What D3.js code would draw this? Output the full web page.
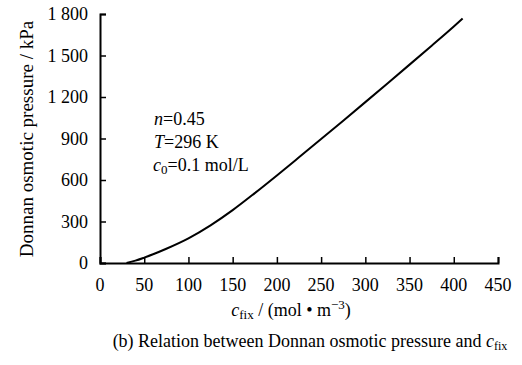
<!DOCTYPE html>
<html>
<head>
<meta charset="utf-8">
<script src="https://cdn.jsdelivr.net/npm/d3@7"></script>
<style>
  body { margin: 0; background: #fff; }
  svg { display: block; font-family: "Liberation Serif", "Times New Roman", serif; }
</style>
</head>
<body>
<svg id="chart" width="522" height="365"></svg>
<script>
// values
const cfix = [30, 40, 50, 60, 75, 100, 125, 150, 175, 200, 225, 250, 275, 300, 325, 350, 375, 400, 410];
const pressure = [0, 17, 39, 63, 103, 178, 272, 382, 505, 633, 764, 896, 1029, 1163, 1298, 1434, 1571, 1710, 1768];
const xTicks = [0, 50, 100, 150, 200, 250, 300, 350, 400, 450];
const yTicks = [0, 300, 600, 900, 1200, 1500, 1800];
const notes = ["n", "T", "c"];

const svg = d3.select("#chart");
const plotL = 100, plotR = 498, plotT = 14, plotB = 263;

const x = d3.scaleLinear().domain([0, 450]).range([plotL, plotR]);
const y = d3.scaleLinear().domain([0, 1800]).range([plotB, plotT]);

// format 1800 -> "1 800"
const fmt = v => v >= 1000 ? String(v).replace(/(\d)(\d{3})$/, "$1 $2") : String(v);

// x axis, ticks point inward
const gx = svg.append("g")
  .attr("transform", `translate(0,${plotB})`)
  .call(d3.axisTop(x).tickValues(xTicks).tickSize(6).tickFormat(""));
gx.select(".domain").attr("stroke-width", 2);
gx.selectAll(".tick line").attr("stroke-width", 1.5);

svg.append("g").selectAll("text")
  .data(xTicks)
  .enter()
  .append("text")
  .attr("x", d => x(d))
  .attr("y", 291)
  .attr("text-anchor", "middle")
  .attr("font-size", 18)
  .text(d => d);

// y axis, ticks point inward
const gy = svg.append("g")
  .attr("transform", `translate(${plotL},0)`)
  .call(d3.axisRight(y).tickValues(yTicks).tickSize(6).tickFormat(""));
gy.select(".domain").attr("stroke-width", 2);
gy.selectAll(".tick line").attr("stroke-width", 1.5);

svg.append("g").selectAll("text")
  .data(yTicks)
  .enter()
  .append("text")
  .attr("x", 88)
  .attr("y", d => y(d))
  .attr("dy", "0.35em")
  .attr("text-anchor", "end")
  .attr("font-size", 18)
  .text(d => fmt(d));

// curve
const line = d3.line()
  .x((d, i) => x(cfix[i]))
  .y(d => y(d))
  .curve(d3.curveMonotoneX);

svg.append("path")
  .datum(pressure)
  .attr("d", line)
  .attr("fill", "none")
  .attr("stroke", "#000")
  .attr("stroke-width", 2);

// axis titles
svg.append("text")
  .attr("transform", "translate(26,139) rotate(-90)")
  .attr("text-anchor", "middle")
  .attr("dy", "0.35em")
  .attr("font-size", 19)
  .text("Donnan osmotic pressure / kPa");

const xt = svg.append("text")
  .attr("x", 291)
  .attr("y", 316)
  .attr("text-anchor", "middle")
  .attr("font-size", 18);
xt.append("tspan").attr("font-style", "italic").text("c");
xt.append("tspan").attr("font-size", 13).attr("dy", 3).text("fix");
xt.append("tspan").attr("dy", -3).text(" / (mol • m");
xt.append("tspan").attr("font-size", 13).attr("dy", -7).text("−3");
xt.append("tspan").attr("dy", 7).text(")");

// parameter notes
const ann = svg.append("g").attr("font-size", 18);
const a1 = ann.append("text").attr("x", 154).attr("y", 125);
a1.append("tspan").attr("font-style", "italic").text(notes[0]);
a1.append("tspan").text("=0.45");
const a2 = ann.append("text").attr("x", 154).attr("y", 148);
a2.append("tspan").attr("font-style", "italic").text(notes[1]);
a2.append("tspan").text("=296 K");
const a3 = ann.append("text").attr("x", 153).attr("y", 171);
a3.append("tspan").attr("font-style", "italic").text(notes[2]);
a3.append("tspan").attr("font-size", 13).attr("dy", 3).text("0");
a3.append("tspan").attr("dy", -3).text("=0.1 mol/L");

// caption
const cap = svg.append("text")
  .attr("x", 310)
  .attr("y", 347)
  .attr("text-anchor", "middle")
  .attr("font-size", 18);
cap.append("tspan").text("(b) Relation between Donnan osmotic pressure and ");
cap.append("tspan").attr("font-style", "italic").text("c");
cap.append("tspan").attr("font-size", 12).attr("dy", 3).text("fix");
</script>
</body>
</html>
